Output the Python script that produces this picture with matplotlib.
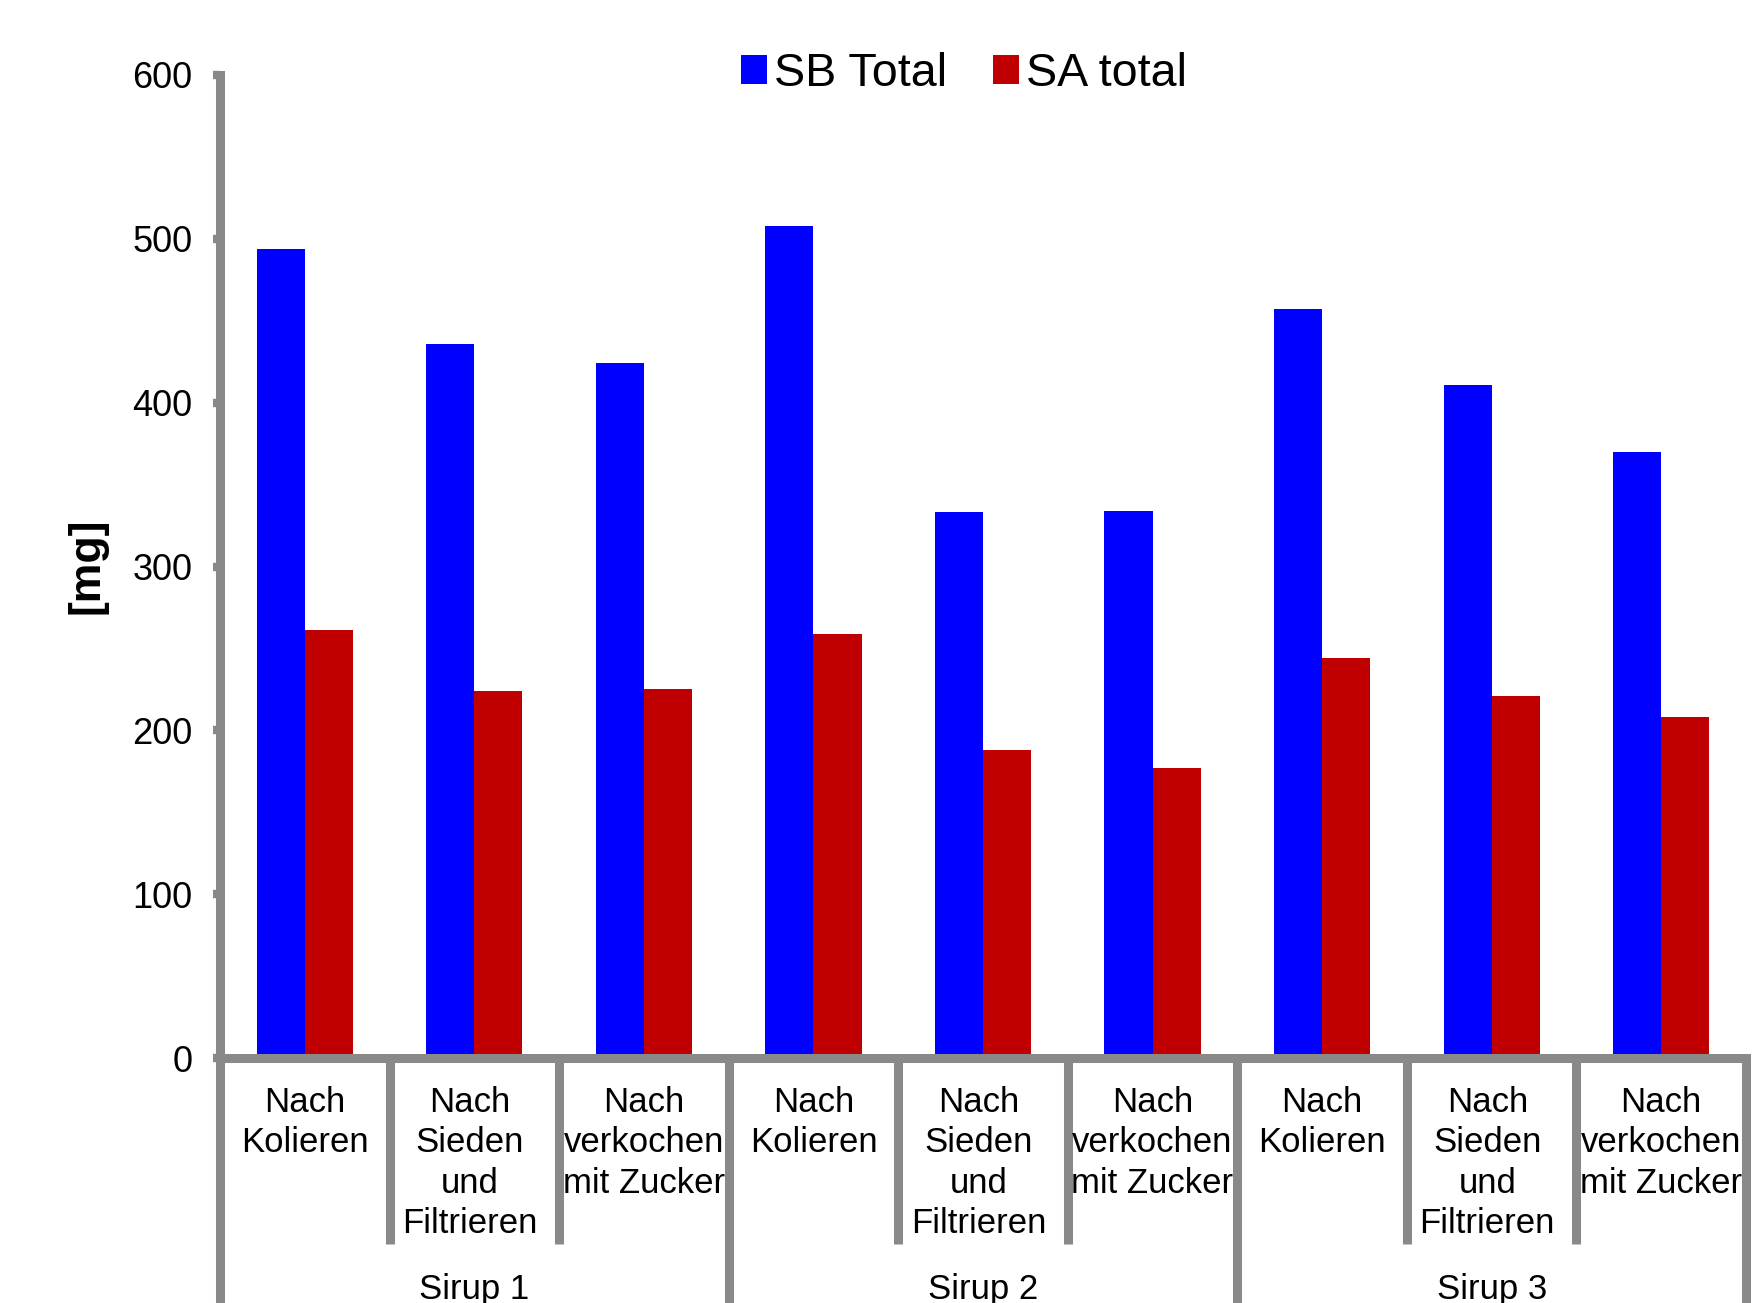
import matplotlib
matplotlib.use("Agg")
import matplotlib.pyplot as plt
from matplotlib.patches import Patch
from matplotlib.transforms import blended_transform_factory
import numpy as np

plt.rcParams['font.family'] = ['Liberation Sans', 'DejaVu Sans']

# ---- data ----
groups = ["Sirup 1", "Sirup 2", "Sirup 3"]
steps = ["Nach\nKolieren", "Nach\nSieden\nund\nFiltrieren", "Nach\nverkochen\nmit Zucker"]
series_names = ["SB Total", "SA total"]
sb_total = [494, 436, 424, 508, 333, 334, 457, 411, 370]
sa_total = [261, 224, 225, 259, 188, 177, 244, 221, 208]
y_ticks = [0, 100, 200, 300, 400, 500, 600]
y_label = "[mg]"

colors = ["#0000FF", "#C00000"]
gray = "#898989"

W, H = 1754, 1303
fig = plt.figure(figsize=(W / 100, H / 100), dpi=100)
left_px, right_px, top_px, bottom_px = 220, 1746, 75, 1058
ax = fig.add_axes([left_px / W, (H - bottom_px) / H,
                   (right_px - left_px) / W, (bottom_px - top_px) / H])

categories = [s for g in groups for s in steps]
x = np.arange(len(categories))
bw = 0.284
ax.bar(x - bw / 2, sb_total, width=bw, color=colors[0], linewidth=0)
ax.bar(x + bw / 2, sa_total, width=bw, color=colors[1], linewidth=0)

ax.set_xlim(-0.5, len(categories) - 0.5)
ax.set_ylim(0, 600)
ax.set_yticks(y_ticks)
ax.set_xticks([])

for s in ["top", "right"]:
    ax.spines[s].set_visible(False)
for s in ["left", "bottom"]:
    ax.spines[s].set_color(gray)
    ax.spines[s].set_linewidth(6.5)
    ax.spines[s].set_capstyle("projecting")
ax.tick_params(axis="y", length=5, width=6, color=gray, pad=15, labelsize=26)

trans = blended_transform_factory(ax.transData, ax.transAxes)
ax_h = bottom_px - top_px
# separators
n_steps = len(steps)
for k in range(len(categories) + 1):
    xb = k - 0.5
    if k % n_steps == 0:
        y_end = -(H - bottom_px + 20) / ax_h
    else:
        y_end = -(1244 - bottom_px) / ax_h
    ax.plot([xb, xb], [0, y_end], transform=trans, color=gray, lw=6.5,
            clip_on=False, solid_capstyle="butt")

# category labels
for i, c in enumerate(categories):
    dx = -0.026 if c.count("\n") >= 3 else 0.0
    ax.text(i + dx, -(1086 - bottom_px) / ax_h, c, transform=trans, ha="center",
            va="top", fontsize=25, linespacing=1.28)
# group labels
for gi, g in enumerate(groups):
    xc = gi * n_steps + (n_steps - 1) / 2
    ax.text(xc, -(1299 - bottom_px) / ax_h, g, transform=trans, ha="center",
            va="baseline", fontsize=25)

fig.text(87 / W, 1 - 566 / H, y_label, rotation=90, ha="center", va="center",
         fontsize=32, fontweight="bold")

handles = [Patch(facecolor=colors[0], edgecolor="none"),
           Patch(facecolor=colors[1], edgecolor="none")]
fig.legend(handles, series_names, loc="center", bbox_to_anchor=(964 / W, 1 - 74 / H),
           ncol=2, frameon=False, fontsize=33.6, handlelength=0.55, handleheight=0.55,
           handletextpad=0.15, columnspacing=1.0, borderpad=0, borderaxespad=0)

fig.savefig("out.png", dpi=100)
